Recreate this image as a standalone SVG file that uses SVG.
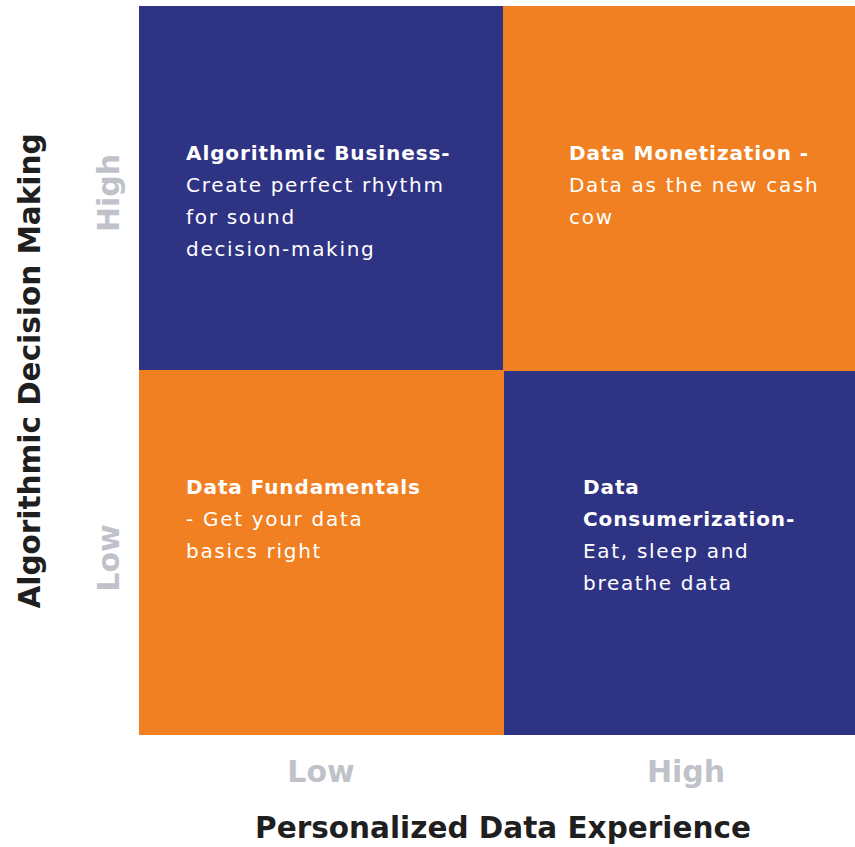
<svg xmlns="http://www.w3.org/2000/svg" width="855" height="847" viewBox="0 0 855 847">
<style>
.q{font-family:"DejaVu Sans","Open Sans",sans-serif;font-size:20px;fill:#ffffff}
.b{font-weight:bold;letter-spacing:0.9px}
.n{font-weight:normal;letter-spacing:1.7px}
.ax{font-family:"DejaVu Sans","Open Sans",sans-serif;font-weight:bold;font-size:29.5px;fill:#1f1f1f}
.lv{font-family:"DejaVu Sans","Open Sans",sans-serif;font-weight:bold;font-size:30px;fill:#bfc3c9}
.blue{fill:#2f3384}
.orange{fill:#f08022}
</style>
<rect width="855" height="847" fill="#ffffff"/>
<g id="q-algorithmic-business">
<rect class="blue" x="139" y="6" width="365" height="365"/>
<text class="q" x="186"><tspan class="b" x="186" y="160">Algorithmic Business-</tspan><tspan class="n" x="186" y="192">Create perfect rhythm</tspan><tspan class="n" x="186" y="224">for sound</tspan><tspan class="n" x="186" y="256">decision-making</tspan></text>
</g>
<g id="q-data-monetization">
<rect class="orange" x="503" y="6" width="352" height="365"/>
<text class="q" x="569"><tspan class="b" x="569" y="160">Data Monetization -</tspan><tspan class="n" x="569" y="192">Data as the new cash</tspan><tspan class="n" x="569" y="224">cow</tspan></text>
</g>
<g id="q-data-fundamentals">
<rect class="orange" x="139" y="370" width="365" height="365"/>
<text class="q" x="186"><tspan class="b" x="186" y="494">Data Fundamentals</tspan><tspan class="n" x="186" y="526">- Get your data</tspan><tspan class="n" x="186" y="558">basics right</tspan></text>
</g>
<g id="q-data-consumerization">
<rect class="blue" x="504" y="371" width="351" height="364"/>
<text class="q" x="583"><tspan class="b" x="583" y="494">Data</tspan><tspan class="b" x="583" y="526">Consumerization-</tspan><tspan class="n" x="583" y="558">Eat, sleep and</tspan><tspan class="n" x="583" y="590">breathe data</tspan></text>
</g>
<g id="axes">
<text class="lv" x="321" y="782" text-anchor="middle">Low</text>
<text class="lv" x="686" y="782" text-anchor="middle">High</text>
<text class="ax" x="503" y="838" text-anchor="middle">Personalized Data Experience</text>
<text class="lv" transform="translate(119,193) rotate(-90)" text-anchor="middle">High</text>
<text class="lv" transform="translate(119,558) rotate(-90)" text-anchor="middle">Low</text>
<text class="ax" transform="translate(40,371) rotate(-90)" text-anchor="middle">Algorithmic Decision Making</text>
</g>
</svg>
